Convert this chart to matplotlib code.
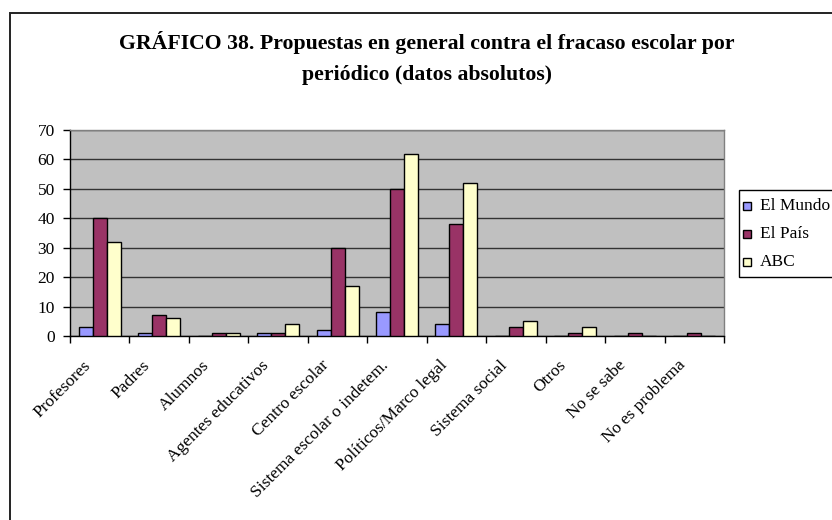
import matplotlib
matplotlib.use("Agg")
import matplotlib.pyplot as plt
import matplotlib.transforms as mtransforms
import numpy as np
from matplotlib.patches import Rectangle

categories = ["Profesores", "Padres", "Alumnos", "Agentes educativos",
              "Centro escolar", "Sistema escolar o indetem.",
              "Políticos/Marco legal", "Sistema social", "Otros",
              "No se sabe", "No es problema"]
el_mundo = [3, 1, 0, 1, 2, 8, 4, 0, 0, 0, 0]
el_pais = [40, 7, 1, 1, 30, 50, 38, 3, 1, 1, 1]
abc = [32, 6, 1, 4, 17, 62, 52, 5, 3, 0, 0]
series_names = ["El Mundo", "El País", "ABC"]
series_colors = ["#9999FF", "#993366", "#FFFFCC"]
y_ticks = [0, 10, 20, 30, 40, 50, 60, 70]
title = "GRÁFICO 38. Propuestas en general contra el fracaso escolar por\nperiódico (datos absolutos)"

plt.rcParams["font.family"] = ["Liberation Serif", "DejaVu Serif"]

W, H = 832, 520
fig = plt.figure(figsize=(W / 100, H / 100), dpi=100)
fig.patch.set_facecolor("white")


def fx(px):
    return px / W


def fy(py):
    return 1 - py / H


# chart area border
fig.add_artist(Rectangle((fx(10), fy(530)), fx(850) - fx(10), fy(13) - fy(530),
                         transform=fig.transFigure, fill=False,
                         edgecolor="#222222", linewidth=1.4))

ax = fig.add_axes([fx(70), fy(336), fx(724) - fx(70), fy(130) - fy(336)])
ax.set_facecolor("#C0C0C0")

x = np.arange(len(categories))
w = 0.235
for i, (vals, col, name) in enumerate(zip([el_mundo, el_pais, abc], series_colors, series_names)):
    ax.bar(x + (i - 1) * w, vals, width=w, color=col, edgecolor="black",
           linewidth=1.0, label=name, zorder=3)

ax.set_xlim(-0.5, len(categories) - 0.5)
ax.set_ylim(0, 70)
ax.set_yticks(y_ticks)
ax.set_yticklabels([str(t) for t in y_ticks], fontsize=12.5)
ax.yaxis.grid(True, color="#333333", linewidth=1.0, zorder=1)
ax.set_axisbelow(True)

ax.set_xticks(x)
ax.set_xticklabels(categories, rotation=45, ha="right", va="top",
                   rotation_mode="anchor", fontsize=12.5)
ax.set_xticks(np.arange(-0.5, len(categories), 1), minor=True)
ax.tick_params(axis="x", which="major", length=0, pad=6)
ax.tick_params(axis="x", which="minor", length=5, direction="out", width=1)
ax.tick_params(axis="y", length=5, direction="out", width=1, pad=6)

# nudge the slanted category labels down and to the left
shift = mtransforms.ScaledTranslation(-0.17, -0.13, fig.dpi_scale_trans)
for lbl in ax.get_xticklabels():
    lbl.set_transform(lbl.get_transform() + shift)

for s in ["left", "bottom"]:
    ax.spines[s].set_color("black")
    ax.spines[s].set_linewidth(1.0)
for s in ["top", "right"]:
    ax.spines[s].set_color("#808080")
    ax.spines[s].set_linewidth(1.0)

fig.text(fx(427), fy(58), title, ha="center", va="center", fontsize=15.7,
         fontweight="bold", linespacing=1.75)

# legend box
fig.add_artist(Rectangle((fx(739), fy(277)), fx(900) - fx(739), fy(190) - fy(277),
                         transform=fig.transFigure, fill=True, facecolor="white",
                         edgecolor="black", linewidth=1.0))
for name, col, ypx in zip(series_names, series_colors, [206, 234, 262]):
    fig.add_artist(Rectangle((fx(743), fy(ypx + 4)), fx(8), fy(0) - fy(8),
                             transform=fig.transFigure, facecolor=col,
                             edgecolor="black", linewidth=1.0))
    fig.text(fx(760), fy(ypx), name, ha="left", va="center", fontsize=12.5)

fig.savefig("out.png", dpi=100)
